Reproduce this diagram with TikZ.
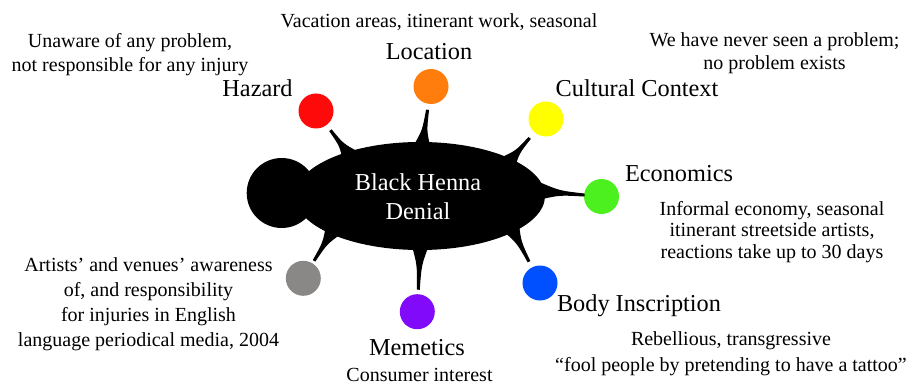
\documentclass[tikz,border=0pt]{standalone}
\usepackage{fontspec}
\setmainfont{Liberation Serif}
\usetikzlibrary{shapes.geometric,calc}
\definecolor{cRed}{RGB}{255,10,10}
\definecolor{cOrange}{RGB}{255,125,12}
\definecolor{cYellow}{RGB}{255,255,0}
\definecolor{cGreen}{RGB}{75,240,30}
\definecolor{cBlue}{RGB}{0,80,255}
\definecolor{cPurple}{RGB}{130,10,250}
\definecolor{cGray}{RGB}{138,135,135}
\newcommand{\thorn}[3]{%
  \coordinate (thB) at ($(#1)!-6pt!(#2)$);
  \coordinate (thT) at ($(#2)!#3!(#1)$);
  \coordinate (thM) at ($(thB)!0.45!(thT)$);
  \fill[black] ($(thB)!9pt!90:(thT)$) .. controls ($(thM)!2.2pt!90:(thT)$) .. ($(thT)!1.5pt!-90:(thB)$) -- ($(thT)!1.5pt!90:(thB)$) .. controls ($(thM)!2.2pt!-90:(thT)$) .. ($(thB)!9pt!-90:(thT)$) -- cycle;}
\tikzset{
  dot/.style={circle, minimum size=35pt, inner sep=0pt},
  small/.style={inner sep=0pt, anchor=base, align=center, font=\fontsize{20}{24}\selectfont},
  big/.style={inner sep=0pt, anchor=base, align=center, font=\fontsize{24.3}{29}\selectfont},
}
\begin{document}
\begin{tikzpicture}[x=1pt, y=-1pt]
\useasboundingbox (0,0) rectangle (913,385);
\fill[white] (0,0) rectangle (913,385);
% central shape
\node[ellipse, fill=black, minimum width=250pt, minimum height=108pt, inner sep=0pt] (E) at (420,196) {};
% circles
\node[dot, fill=cRed] (redC) at (316,111) {};
\node[dot, fill=cOrange] (orangeC) at (431,86.5) {};
\node[dot, fill=cYellow] (yellowC) at (546,119) {};
\node[dot, fill=cGreen] (greenC) at (601.5,196.5) {};
\node[dot, fill=cBlue] (blueC) at (540,283) {};
\node[dot, fill=cPurple] (purpleC) at (417.3,311.7) {};
\node[dot, fill=cGray] (grayC) at (303.3,278.3) {};
% thorns
\thorn{E.149}{redC}{24pt}
\thorn{E.87}{orangeC}{23.5pt}
\thorn{E.22}{yellowC}{25pt}
\thorn{E.2}{greenC}{17pt}
\thorn{E.-21}{blueC}{24pt}
\thorn{E.-90}{purpleC}{22pt}
\thorn{E.203}{grayC}{20.5pt}
\node[circle, fill=black, minimum size=70pt, inner sep=0pt] (head) at (281.7,193) {};
% multi-line nodes: anchor=base is the baseline of the last line
\node[big, text=white] (title) at (418,219.3) {Black Henna\\Denial};
% labels
\node[small] (locD) at (439,28) {Vacation areas, itinerant work, seasonal};
\node[big] (locL) at (429,60) {Location};
\node[small] (hazD) at (130,72) {Unaware of any problem,\\not responsible for any injury};
\node[big] (hazL) at (257.5,97) {Hazard};
\node[small, font=\fontsize{20}{23.3}\selectfont] (culD) at (774.5,70) {We have never seen a problem;\\no problem exists};
\node[big] (culL) at (637,96.7) {Cultural Context};
\node[big] (ecoL) at (679,181.7) {Economics};
\node[small, font=\fontsize{20}{21.6}\selectfont] (ecoD) at (772,258.3) {Informal economy, seasonal\\itinerant streetside artists,\\reactions take up to 30 days};
\node[small, font=\fontsize{20}{24.8}\selectfont] (artD) at (148.5,346) {Artists’ and venues’ awareness\\of, and responsibility\\for injuries in English\\language periodical media, 2004};
\node[big] (memL) at (417,355) {Memetics};
\node[small] (memD) at (419.5,381.7) {Consumer interest};
\node[big] (bodL) at (639,311.7) {Body Inscription};
\node[small, font=\fontsize{20}{26.7}\selectfont] (bodD) at (731,371.7) {Rebellious, transgressive\\“fool people by pretending to have a tattoo”};
\end{tikzpicture}
\end{document}
